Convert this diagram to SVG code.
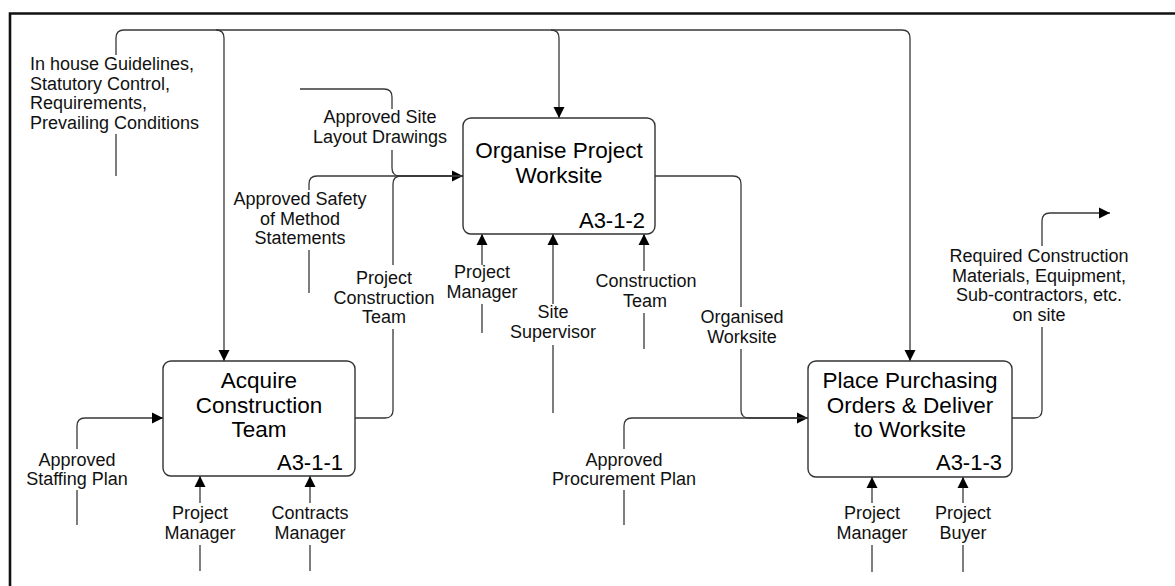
<svg xmlns="http://www.w3.org/2000/svg" width="1175" height="586" viewBox="0 0 1175 586">
<style>
.frame{fill:none;stroke:#111;stroke-width:2.6}
.box{fill:#fff;stroke:#333;stroke-width:1.4}
.ln{fill:none;stroke:#383838;stroke-width:1.3}
.t{font-family:"Liberation Sans",Arial,sans-serif;font-size:22.5px;fill:#000;text-anchor:middle}
.id{font-family:"Liberation Sans",Arial,sans-serif;font-size:22px;fill:#000;text-anchor:end}
.l{font-family:"Liberation Sans",Arial,sans-serif;font-size:18px;fill:#111;text-anchor:middle}
.ll{font-family:"Liberation Sans",Arial,sans-serif;font-size:18px;fill:#111;text-anchor:start}
</style>
<defs>
<marker id="ah" markerUnits="userSpaceOnUse" markerWidth="12" markerHeight="12" refX="11" refY="5.5" orient="auto" viewBox="0 0 12 11">
<path d="M0,0 L11,5.5 L0,11 z" fill="#000"/>
</marker>
</defs>
<rect width="1175" height="586" fill="#fff"/>
<path class="frame" d="M10,586 V13.5 H1175"/>

<g id="connectors">
<path class="ln" d="M116,176 V134"/>
<path class="ln" d="M116,55 V38 Q116,30 124,30 H902 Q910,30 910,38 V361" marker-end="url(#ah)"/>
<path class="ln" d="M216,30 Q224,30 224,38 V361" marker-end="url(#ah)"/>
<path class="ln" d="M551,30 Q559,30 559,38 V118" marker-end="url(#ah)"/>
<path class="ln" d="M300,89 H384 Q392,89 392,97 V109"/>
<path class="ln" d="M392,150 V168 Q392,176 400,176 H463" marker-end="url(#ah)"/>
<path class="ln" d="M309,293 V250"/>
<path class="ln" d="M309,190 V184 Q309,176 317,176 H463"/>
<path class="ln" d="M355,418 H385 Q393,418 393,410 V329"/>
<path class="ln" d="M393,265 V184 Q393,176 401,176 H463"/>
<path class="ln" d="M482,265 V234" marker-end="url(#ah)"/>
<path class="ln" d="M482,304 V333"/>
<path class="ln" d="M553,304 V234" marker-end="url(#ah)"/>
<path class="ln" d="M553,345 V413"/>
<path class="ln" d="M644,271 V234" marker-end="url(#ah)"/>
<path class="ln" d="M644,313 V349"/>
<path class="ln" d="M655,176 H733 Q741,176 741,184 V307"/>
<path class="ln" d="M741,349 V410 Q741,418 749,418 H808" marker-end="url(#ah)"/>
<path class="ln" d="M624,525 V490"/>
<path class="ln" d="M624,449 V426 Q624,418 632,418 H808"/>
<path class="ln" d="M77,525 V490"/>
<path class="ln" d="M77,449 V426 Q77,418 85,418 H163" marker-end="url(#ah)"/>
<path class="ln" d="M200,503 V476" marker-end="url(#ah)"/>
<path class="ln" d="M200,545 V571"/>
<path class="ln" d="M310,503 V476" marker-end="url(#ah)"/>
<path class="ln" d="M310,545 V571"/>
<path class="ln" d="M872,503 V477" marker-end="url(#ah)"/>
<path class="ln" d="M872,545 V572"/>
<path class="ln" d="M963,503 V477" marker-end="url(#ah)"/>
<path class="ln" d="M963,545 V572"/>
<path class="ln" d="M1012,418 H1034 Q1042,418 1042,410 V327"/>
<path class="ln" d="M1042,246 V221 Q1042,213 1050,213 H1110" marker-end="url(#ah)"/>
</g>

<g id="labels">
<text class="ll" x="30" y="70">In house Guidelines,</text>
<text class="ll" x="30" y="89.5">Statutory Control,</text>
<text class="ll" x="30" y="109">Requirements,</text>
<text class="ll" x="30" y="128.5">Prevailing Conditions</text>
<text class="l" x="380" y="123">Approved Site</text>
<text class="l" x="380" y="143">Layout Drawings</text>
<text class="l" x="300" y="205">Approved Safety</text>
<text class="l" x="300" y="224.5">of Method</text>
<text class="l" x="300" y="244">Statements</text>
<text class="l" x="384" y="284">Project</text>
<text class="l" x="384" y="303.5">Construction</text>
<text class="l" x="384" y="323">Team</text>
<text class="l" x="482" y="278">Project</text>
<text class="l" x="482" y="297.5">Manager</text>
<text class="l" x="553" y="318">Site</text>
<text class="l" x="553" y="338">Supervisor</text>
<text class="l" x="646" y="287">Construction</text>
<text class="l" x="645" y="307">Team</text>
<text class="l" x="742" y="323">Organised</text>
<text class="l" x="742" y="343">Worksite</text>
<text class="l" x="624" y="466">Approved</text>
<text class="l" x="624" y="485">Procurement Plan</text>
<text class="l" x="77" y="466">Approved</text>
<text class="l" x="77" y="485">Staffing Plan</text>
<text class="l" x="200" y="519">Project</text>
<text class="l" x="200" y="538.5">Manager</text>
<text class="l" x="310" y="519">Contracts</text>
<text class="l" x="310" y="538.5">Manager</text>
<text class="l" x="872" y="519">Project</text>
<text class="l" x="872" y="538.5">Manager</text>
<text class="l" x="963" y="519">Project</text>
<text class="l" x="963" y="538.5">Buyer</text>
<text class="l" x="1039" y="262">Required Construction</text>
<text class="l" x="1039" y="282">Materials, Equipment,</text>
<text class="l" x="1039" y="301">Sub-contractors, etc.</text>
<text class="l" x="1039" y="321">on site</text>
</g>

<g id="node-a311">
<rect class="box" x="163" y="361" width="192" height="115" rx="8"/>
<text class="t" x="259" y="388">Acquire</text>
<text class="t" x="259" y="413">Construction</text>
<text class="t" x="259" y="437">Team</text>
<text class="id" x="343" y="470">A3-1-1</text>
</g>

<g id="node-a312">
<rect class="box" x="463" y="118" width="192" height="116" rx="8"/>
<text class="t" x="559" y="158">Organise Project</text>
<text class="t" x="559" y="183">Worksite</text>
<text class="id" x="645" y="228">A3-1-2</text>
</g>

<g id="node-a313">
<rect class="box" x="808" y="361" width="204" height="116" rx="8"/>
<text class="t" x="910" y="388">Place Purchasing</text>
<text class="t" x="910" y="413">Orders &amp; Deliver</text>
<text class="t" x="910" y="437">to Worksite</text>
<text class="id" x="1002" y="470">A3-1-3</text>
</g>
</svg>
